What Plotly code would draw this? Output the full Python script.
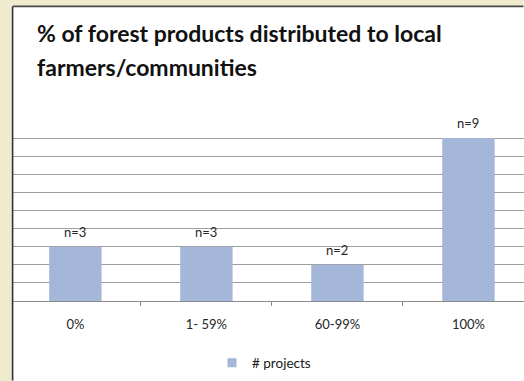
import plotly.graph_objects as go

# Share of forest products handed to local farmers / communities
categories = ["0%", "1- 59%", "60-99%", "100%"]
projects = [3, 3, 2, 9]
series_name = "# projects"
title_lines = ["% of forest products distributed to local", "farmers/communities"]

BAR = "#A4B7D9"
BEIGE = "#F0EACE"
FRAME = "#333333"
FONT = "Lato"

W, H = 524, 381
L, R, T, B = 13, 0, 119, 80
plot_w, plot_h = W - L - R, H - T - B
Y_TOP = 10.055  # a hair above 10 so the top gridline is kept
EDGE = W - 0.5  # keep shapes inside the page


def px_x(px):
    return (px - L) / plot_w


def px_y(py):
    return (H - B - py) / plot_h


fig = go.Figure()

fig.add_trace(go.Bar(
    x=categories, y=projects, marker=dict(color=BAR, line=dict(width=0)),
    width=0.4, showlegend=False, hoverinfo="x+y",
))

# legend entry with a small square swatch
fig.add_trace(go.Scatter(
    x=[None], y=[None], mode="markers", name=series_name,
    marker=dict(symbol="square", size=9, color=BAR),
))

# value labels above each bar
for c, v in zip(categories, projects):
    fig.add_annotation(x=c, y=v, text=f"n={v}", showarrow=False,
                       yanchor="bottom", yshift=5,
                       font=dict(family=FONT, size=13, color="#262626"))

# title, two lines with generous spacing
for line, py in zip(title_lines, [33, 67.5]):
    fig.add_annotation(xref="paper", yref="paper", x=px_x(35), y=px_y(py),
                       xanchor="left", yanchor="middle", text=f"<b>{line}</b>",
                       showarrow=False,
                       font=dict(family=FONT, size=23, color="#111111"))

# beige page strips along the left and top, then the dark frame lines
fig.add_shape(type="rect", xref="paper", yref="paper",
              x0=px_x(0), x1=px_x(12.6), y0=px_y(H), y1=px_y(0),
              fillcolor=BEIGE, line=dict(width=0), layer="below")
fig.add_shape(type="rect", xref="paper", yref="paper",
              x0=px_x(0), x1=px_x(EDGE), y0=px_y(6.4), y1=px_y(0),
              fillcolor=BEIGE, line=dict(width=0), layer="below")
fig.add_shape(type="line", xref="paper", yref="paper",
              x0=px_x(12.6), x1=px_x(12.6), y0=px_y(H - 0.5), y1=px_y(6.4),
              line=dict(color=FRAME, width=1.6))
fig.add_shape(type="line", xref="paper", yref="paper",
              x0=px_x(12.6), x1=px_x(EDGE), y0=px_y(6.4), y1=px_y(6.4),
              line=dict(color="#4a4a4a", width=1.6))

fig.update_layout(
    width=W, height=H,
    margin=dict(l=L, r=R, t=T, b=B, autoexpand=False),
    paper_bgcolor="white", plot_bgcolor="white",
    font=dict(family=FONT, size=13, color="#262626"),
    showlegend=True,
    legend=dict(orientation="h", x=px_x(212), y=px_y(363),
                xanchor="left", yanchor="middle",
                font=dict(family=FONT, size=13.5, color="#1a1a1a"),
                bgcolor="rgba(0,0,0,0)"),
)

fig.update_xaxes(
    type="category", range=[-0.476, 3.424], automargin=False,
    showline=True, linecolor="#8a8a8a", linewidth=1,
    ticks="outside", tickson="boundaries", ticklen=4, tickcolor="#8a8a8a",
    ticklabelstandoff=11, showgrid=False,
    tickfont=dict(family=FONT, size=13, color="#262626"),
)
fig.update_yaxes(
    range=[0, Y_TOP], dtick=1, showticklabels=False, ticks="", automargin=False,
    showgrid=True, gridcolor="#9e9e9e", gridwidth=1, zeroline=False,
    showline=False,
)

fig.write_html("out.html", config={"displayModeBar": False})
